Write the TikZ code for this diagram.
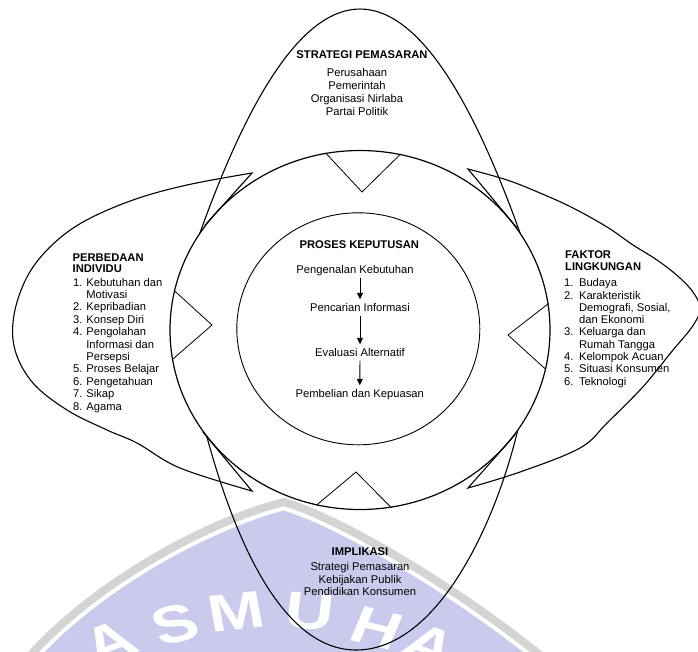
\documentclass[tikz,border=0pt]{standalone}
\usepackage{fontspec}
\setmainfont{Liberation Sans}
\usetikzlibrary{shapes.geometric,arrows.meta}
\definecolor{wmlav}{RGB}{202,203,236}
\definecolor{wmgray}{RGB}{212,212,212}
\begin{document}
\begin{tikzpicture}[x=1pt,y=-1pt,
  petal/.style={line width=1.1pt},
  notch/.style={line width=0.8pt},
  txt/.style={inner sep=0pt, font=\fontsize{11.2}{13}\selectfont},
  hd/.style={inner sep=0pt, font=\fontsize{11.2}{11.3}\selectfont\bfseries},
  stepbox/.style={txt, text height=8pt, text depth=3pt},
  flow/.style={line width=0.9pt, -{Triangle[length=6.5pt,width=6pt]}, shorten <=1pt, shorten >=4pt},
  wmletter/.style={inner sep=0pt, text=white, font=\fontsize{52}{52}\selectfont\bfseries, xscale=1.3},
]
\useasboundingbox (0,0) rectangle (698,651);

% faint crest in the lower part of the page
\begin{scope}
  \clip (284,498) .. controls (342,514) and (470,590) .. (562,668) -- (14,668) .. controls (90,575) and (220,513) .. cycle;
  \fill[wmlav] (284,498) .. controls (342,514) and (470,590) .. (562,668) -- (14,668) .. controls (90,575) and (220,513) .. cycle;
  \draw[white, line width=24pt] (284,498) .. controls (342,514) and (470,590) .. (562,668) -- (14,668) .. controls (90,575) and (220,513) .. cycle;
  \draw[wmgray, line width=16pt] (284,498) .. controls (342,514) and (470,590) .. (562,668) -- (14,668) .. controls (90,575) and (220,513) .. cycle;
  \node[wmletter, rotate=25]  (wm1) at (110,642) {A};
  \node[wmletter, rotate=17]  (wm2) at (175,624) {S};
  \node[wmletter, rotate=8]   (wm3) at (236,612) {M};
  \node[wmletter, rotate=-5]  (wm4) at (310,612) {U};
  \node[wmletter, rotate=-18] (wm5) at (377,628) {H};
  \node[wmletter, rotate=-26] (wm6) at (430,646) {A};
\end{scope}

% upper and lower petals (their ends disappear under the ring)
\draw[petal] (194,250) .. controls (304.7,-71.3) and (415.3,-71.3) .. (526,250);
\draw[petal] (200,410) .. controls (222,500) and (270,650) .. (356,650)
             .. controls (445,650) and (505,500) .. (522,410);

% the ring
\node[ellipse, draw, fill=white, line width=1.2pt, minimum width=380pt,
      minimum height=359pt, inner sep=0pt] (ring) at (360,330) {};

% notches where each petal points into the ring
\coordinate (vt) at (362,192);
\coordinate (vl) at (212,325);
\coordinate (vr) at (508,335);
\coordinate (vb) at (356,472);
\draw[notch] (ring.101.8) -- (vt) -- (ring.77.3);
\draw[notch] (ring.168) -- (vl) -- (ring.189.1);
\draw[notch] (ring.8.8) -- (vr) -- (ring.348);
\draw[notch] (ring.256.7) -- (vb) -- (ring.280.5);

% left and right crescents
\coordinate (lt) at (252,173);
\coordinate (lb) at (252,491);
\draw[petal] (ring.146.4) -- plot[smooth, tension=0.6] coordinates {(lt) (187,185) (133,200) (83,222) (50,247) (27,277) (14,315) (15,350) (33,383) (67,410) (107,430) (137,443) (180,468) (lb)} -- (ring.213.8);
\coordinate (rt) at (468,169);
\coordinate (rb) at (468,488);
\draw[petal] (ring.33.9) -- plot[smooth, tension=0.6] coordinates {(rt) (507,180) (540,193) (573,208) (607,227) (633,245) (657,260) (680,278) (695,295) (700,310) (692,327) (673,350) (657,370) (640,390) (607,423) (580,448) (520,472) (rb)} -- (ring.326.1);

% decision core
\node[ellipse, draw, line width=0.9pt, minimum width=243pt, minimum height=232pt,
      inner sep=0pt] (core) at (358.3,328.8) {};

\node[hd, anchor=base] (dpHead) at (359.3,248.3) {PROSES KEPUTUSAN};
\node[stepbox, anchor=base] (k1) at (355,273.5) {Pengenalan Kebutuhan};
\node[stepbox, anchor=base] (k2) at (360,311.5) {Pencarian Informasi};
\node[stepbox, anchor=base] (k3) at (360,356.5) {Evaluasi Alternatif};
\node[stepbox, anchor=base] (k4) at (359.7,397.5) {Pembelian dan Kepuasan};
\draw[flow] (k1.south -| k2.north) -- (k2.north);
\draw[flow] (k2.south) -- (k3.north);
\draw[flow] (k3.south) -- (k4.north);

% top petal text
\node[hd, anchor=base] (spHead) at (362,58.7) {STRATEGI PEMASARAN};
\node[txt, anchor=base] (spList) at (357,76.7)
  {\begin{tabular}[t]{@{}c@{}}Perusahaan\\Pemerintah\\Organisasi Nirlaba\\Partai Politik\end{tabular}};

% bottom petal text
\node[hd, anchor=base] (imHead) at (360,555.7) {IMPLIKASI};
\node[txt, anchor=base, font=\fontsize{11.2}{12.5}\selectfont] (imList) at (360,570.7)
  {\begin{tabular}[t]{@{}c@{}}Strategi Pemasaran\\Kebijakan Publik\\Pendidikan Konsumen\end{tabular}};

% left petal text
\node[hd, anchor=base west] (pdHead) at (72.5,261)
  {\begin{tabular}[t]{@{}l@{}}PERBEDAAN\\INDIVIDU\end{tabular}};
\node[txt, anchor=base west, font=\fontsize{11.2}{12.4}\selectfont] (pdList) at (73,286)
  {\begin{tabular}[t]{@{}l@{\hspace{3.8pt}}l@{}}
   1. & Kebutuhan dan\\ & Motivasi\\ 2. & Kepribadian\\ 3. & Konsep Diri\\
   4. & Pengolahan\\ & Informasi dan\\ & Persepsi\\ 5. & Proses Belajar\\
   6. & Pengetahuan\\ 7. & Sikap\\ 8. & Agama
   \end{tabular}};

% right petal text
\node[hd, anchor=base west, font=\fontsize{11.2}{12}\selectfont\bfseries] (fkHead) at (565,258.7)
  {\begin{tabular}[t]{@{}l@{}}FAKTOR\\LINGKUNGAN\end{tabular}};
\node[txt, anchor=base west, font=\fontsize{11.2}{12.3}\selectfont] (fkList) at (564,286.7)
  {\begin{tabular}[t]{@{}l@{\hspace{5.5pt}}l@{}}
   1. & Budaya\\ 2. & Karakteristik\\ & Demografi, Sosial,\\ & dan Ekonomi\\
   3. & Keluarga dan\\ & Rumah Tangga\\ 4. & Kelompok Acuan\\
   5. & Situasi Konsumen\\ 6. & Teknologi
   \end{tabular}};
\end{tikzpicture}
\end{document}
